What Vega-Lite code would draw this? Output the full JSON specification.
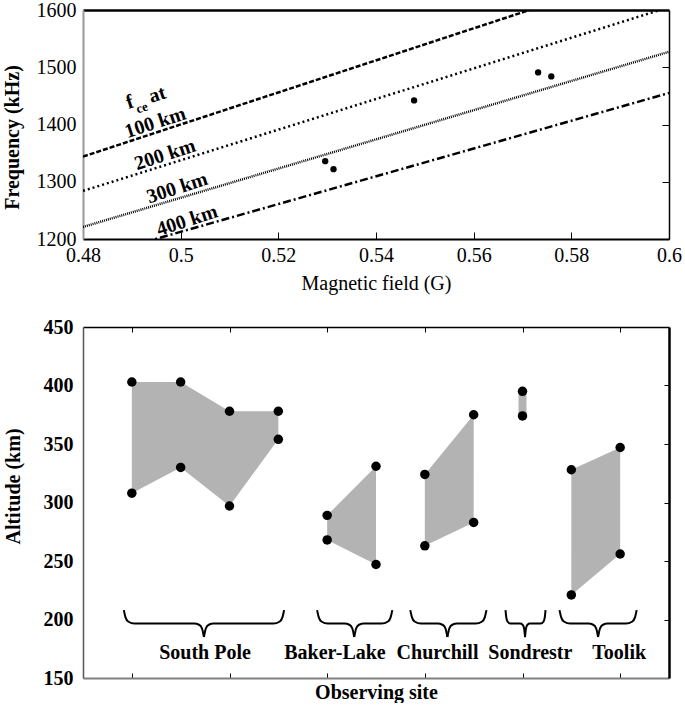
{
  "$schema": "https://vega.github.io/schema/vega-lite/v6.json",
  "padding": {"left": 2, "top": 0, "right": 5, "bottom": 0},
  "spacing": 24,
  "config": {
    "font": "Liberation Serif",
    "view": {"stroke": null},
    "axis": {"labelColor": "black", "titleColor": "black", "grid": false, "labelFontSize": 20, "titleFontSize": 20, "tickColor": "black", "domainColor": "black", "labelFont": "Liberation Serif", "titleFont": "Liberation Serif"}
  },
  "datasets": {
    "lines": [
      {"alt": "100 km", "B": 0.48, "f": 1344},
      {"alt": "100 km", "B": 0.6, "f": 1680},
      {"alt": "200 km", "B": 0.48, "f": 1284},
      {"alt": "200 km", "B": 0.6, "f": 1605},
      {"alt": "300 km", "B": 0.48, "f": 1221},
      {"alt": "300 km", "B": 0.6, "f": 1527},
      {"alt": "400 km", "B": 0.48, "f": 1164},
      {"alt": "400 km", "B": 0.6, "f": 1455}
    ],
    "obs": [
      {"B": 0.5296, "f": 1336},
      {"B": 0.5313, "f": 1322},
      {"B": 0.5478, "f": 1442},
      {"B": 0.5732, "f": 1491},
      {"B": 0.5759, "f": 1484}
    ],
    "toplabels": [
      {"label": "f", "B": 0.4896, "f": 1439},
      {"label": "at", "B": 0.4952, "f": 1452},
      {"label": "100 km", "B": 0.4948, "f": 1403},
      {"label": "200 km", "B": 0.4968, "f": 1347},
      {"label": "300 km", "B": 0.4993, "f": 1289},
      {"label": "400 km", "B": 0.5013, "f": 1232}
    ],
    "subs": [
      {"label": "ce", "B": 0.4921, "f": 1429}
    ],
    "alt": [
      {"site": "South Pole", "x": 0, "top": 403, "bottom": 308},
      {"site": "South Pole", "x": 0.5, "top": 403, "bottom": 330},
      {"site": "South Pole", "x": 1, "top": 378, "bottom": 297},
      {"site": "South Pole", "x": 1.5, "top": 378, "bottom": 354},
      {"site": "Baker-Lake", "x": 2, "top": 289, "bottom": 268},
      {"site": "Baker-Lake", "x": 2.5, "top": 331, "bottom": 247},
      {"site": "Churchill", "x": 3, "top": 324, "bottom": 263},
      {"site": "Churchill", "x": 3.5, "top": 375, "bottom": 283},
      {"site": "Sondrestr", "x": 4, "top": 395, "bottom": 374},
      {"site": "Toolik", "x": 4.5, "top": 328, "bottom": 221},
      {"site": "Toolik", "x": 5, "top": 347, "bottom": 256}
    ],
    "sitelabels": [
      {"label": "South Pole", "x": 0.749},
      {"label": "Baker-Lake", "x": 2.08},
      {"label": "Churchill", "x": 3.13},
      {"label": "Sondrestr", "x": 4.08},
      {"label": "Toolik", "x": 4.99}
    ],
    "braces": [
      {"seg": "SP-L", "x": -0.082, "y": 208}, {"seg": "SP-L", "x": -0.0655, "y": 202}, {"seg": "SP-L", "x": -0.038, "y": 198.3}, {"seg": "SP-L", "x": 0.028, "y": 196.5}, {"seg": "SP-L", "x": 0.638, "y": 196.5}, {"seg": "SP-L", "x": 0.688, "y": 195.5}, {"seg": "SP-L", "x": 0.718, "y": 192.5}, {"seg": "SP-L", "x": 0.738, "y": 185},
      {"seg": "SP-R", "x": 0.738, "y": 185}, {"seg": "SP-R", "x": 0.758, "y": 192.5}, {"seg": "SP-R", "x": 0.788, "y": 195.5}, {"seg": "SP-R", "x": 0.838, "y": 196.5}, {"seg": "SP-R", "x": 1.449, "y": 196.5}, {"seg": "SP-R", "x": 1.515, "y": 198.3}, {"seg": "SP-R", "x": 1.5425, "y": 202}, {"seg": "SP-R", "x": 1.559, "y": 208},
      {"seg": "BL-L", "x": 1.897, "y": 208}, {"seg": "BL-L", "x": 1.9135, "y": 202}, {"seg": "BL-L", "x": 1.941, "y": 198.3}, {"seg": "BL-L", "x": 2.007, "y": 196.5}, {"seg": "BL-L", "x": 2.177, "y": 196.5}, {"seg": "BL-L", "x": 2.227, "y": 195.5}, {"seg": "BL-L", "x": 2.257, "y": 192.5}, {"seg": "BL-L", "x": 2.277, "y": 185},
      {"seg": "BL-R", "x": 2.277, "y": 185}, {"seg": "BL-R", "x": 2.297, "y": 192.5}, {"seg": "BL-R", "x": 2.327, "y": 195.5}, {"seg": "BL-R", "x": 2.377, "y": 196.5}, {"seg": "BL-R", "x": 2.557, "y": 196.5}, {"seg": "BL-R", "x": 2.623, "y": 198.3}, {"seg": "BL-R", "x": 2.6505, "y": 202}, {"seg": "BL-R", "x": 2.667, "y": 208},
      {"seg": "CH-L", "x": 2.851, "y": 208}, {"seg": "CH-L", "x": 2.8675, "y": 202}, {"seg": "CH-L", "x": 2.895, "y": 198.3}, {"seg": "CH-L", "x": 2.961, "y": 196.5}, {"seg": "CH-L", "x": 3.131, "y": 196.5}, {"seg": "CH-L", "x": 3.181, "y": 195.5}, {"seg": "CH-L", "x": 3.211, "y": 192.5}, {"seg": "CH-L", "x": 3.231, "y": 185},
      {"seg": "CH-R", "x": 3.231, "y": 185}, {"seg": "CH-R", "x": 3.251, "y": 192.5}, {"seg": "CH-R", "x": 3.281, "y": 195.5}, {"seg": "CH-R", "x": 3.331, "y": 196.5}, {"seg": "CH-R", "x": 3.521, "y": 196.5}, {"seg": "CH-R", "x": 3.587, "y": 198.3}, {"seg": "CH-R", "x": 3.6145, "y": 202}, {"seg": "CH-R", "x": 3.631, "y": 208},
      {"seg": "SO-L", "x": 3.826, "y": 208}, {"seg": "SO-L", "x": 3.8335, "y": 202}, {"seg": "SO-L", "x": 3.846, "y": 198.3}, {"seg": "SO-L", "x": 3.876, "y": 196.5}, {"seg": "SO-L", "x": 3.976, "y": 196.5}, {"seg": "SO-L", "x": 4.001, "y": 195.5}, {"seg": "SO-L", "x": 4.016, "y": 192.5}, {"seg": "SO-L", "x": 4.026, "y": 185},
      {"seg": "SO-R", "x": 4.026, "y": 185}, {"seg": "SO-R", "x": 4.036, "y": 192.5}, {"seg": "SO-R", "x": 4.051, "y": 195.5}, {"seg": "SO-R", "x": 4.076, "y": 196.5}, {"seg": "SO-R", "x": 4.186, "y": 196.5}, {"seg": "SO-R", "x": 4.216, "y": 198.3}, {"seg": "SO-R", "x": 4.2285, "y": 202}, {"seg": "SO-R", "x": 4.236, "y": 208},
      {"seg": "TO-L", "x": 4.379, "y": 208}, {"seg": "TO-L", "x": 4.3955, "y": 202}, {"seg": "TO-L", "x": 4.423, "y": 198.3}, {"seg": "TO-L", "x": 4.489, "y": 196.5}, {"seg": "TO-L", "x": 4.674, "y": 196.5}, {"seg": "TO-L", "x": 4.724, "y": 195.5}, {"seg": "TO-L", "x": 4.754, "y": 192.5}, {"seg": "TO-L", "x": 4.774, "y": 185},
      {"seg": "TO-R", "x": 4.774, "y": 185}, {"seg": "TO-R", "x": 4.794, "y": 192.5}, {"seg": "TO-R", "x": 4.824, "y": 195.5}, {"seg": "TO-R", "x": 4.874, "y": 196.5}, {"seg": "TO-R", "x": 5.059, "y": 196.5}, {"seg": "TO-R", "x": 5.125, "y": 198.3}, {"seg": "TO-R", "x": 5.1525, "y": 202}, {"seg": "TO-R", "x": 5.169, "y": 208}
    ]
  },
  "vconcat": [
    {
      "width": 586,
      "height": 229,
      "layer": [
        {
          "data": {"name": "lines"},
          "mark": {"type": "line", "clip": true, "color": "black"},
          "encoding": {
            "x": {"field": "B", "type": "quantitative", "scale": {"domain": [0.48, 0.6], "nice": false, "zero": false},
              "axis": {"orient": "bottom", "values": [0.48, 0.5, 0.52, 0.54, 0.56, 0.58, 0.6], "format": "~g", "tickSize": -7, "ticks": true, "domainWidth": 2, "labelPadding": 13, "labelFlush": false, "labelOverlap": false, "title": "Magnetic field (G)", "titleFontWeight": "normal", "titlePadding": 8}},
            "y": {"field": "f", "type": "quantitative", "scale": {"domain": [1200, 1600], "nice": false, "zero": false},
              "axis": {"orient": "left", "values": [1200, 1300, 1400, 1500, 1600], "format": "d", "ticks": false, "domainColor": "#999999", "domainWidth": 2, "labelPadding": 7, "labelFlush": false, "title": "Frequency (kHz)", "titleFontWeight": "bold", "titlePadding": 14, "titleY": 127}},
            "detail": {"field": "alt", "type": "nominal"},
            "strokeDash": {"field": "alt", "type": "nominal", "scale": {"domain": ["100 km", "200 km", "300 km", "400 km"], "range": [[5, 2], [2, 3], [1, 1], [8, 3, 2, 3]]}, "legend": null},
            "strokeWidth": {"field": "alt", "type": "nominal", "scale": {"domain": ["100 km", "200 km", "300 km", "400 km"], "range": [2.5, 2.5, 1.5, 2.5]}, "legend": null}
          }
        },
        {
          "data": {"name": "obs"},
          "mark": {"type": "circle", "color": "black", "opacity": 1, "size": 40},
          "encoding": {
            "x": {"field": "B", "type": "quantitative", "axis": {"orient": "top", "labels": false, "ticks": false, "title": null, "domainWidth": 2.5}},
            "y": {"field": "f", "type": "quantitative", "axis": {"orient": "right", "labels": false, "tickSize": -7, "values": [1300, 1400, 1500], "title": null, "domainWidth": 1.5}}
          }
        },
        {
          "data": {"name": "toplabels"},
          "mark": {"type": "text", "angle": -18, "fontWeight": "bold", "fontSize": 20, "align": "center", "baseline": "middle", "color": "black"},
          "encoding": {
            "x": {"field": "B", "type": "quantitative", "axis": null},
            "y": {"field": "f", "type": "quantitative", "axis": null},
            "text": {"field": "label"}
          }
        },
        {
          "data": {"name": "subs"},
          "mark": {"type": "text", "angle": -18, "fontWeight": "bold", "fontSize": 13, "align": "center", "baseline": "middle", "color": "black"},
          "encoding": {
            "x": {"field": "B", "type": "quantitative", "axis": null},
            "y": {"field": "f", "type": "quantitative", "axis": null},
            "text": {"field": "label"}
          }
        }
      ],
      "resolve": {"axis": {"x": "independent", "y": "independent"}}
    },
    {
      "width": 586,
      "height": 351,
      "layer": [
        {
          "data": {"name": "alt"},
          "mark": {"type": "area", "color": "#b3b3b3", "opacity": 1},
          "encoding": {
            "x": {"field": "x", "type": "quantitative", "scale": {"domain": [-0.5, 5.5], "nice": false, "zero": false},
              "axis": {"orient": "bottom", "values": [0, 1, 2, 3, 4, 5], "labels": false, "tickSize": -5, "domainColor": "#808080", "domainWidth": 2, "title": "Observing site", "titleFontWeight": "bold", "titlePadding": 4}},
            "y": {"field": "top", "type": "quantitative", "scale": {"domain": [150, 450], "nice": false, "zero": false},
              "axis": {"orient": "left", "values": [150, 200, 250, 300, 350, 400, 450], "format": "d", "ticks": false, "labelFontWeight": "bold", "labelPadding": 10, "labelFlush": false, "domainColor": "#555555", "domainWidth": 1.5, "title": "Altitude (km)", "titleFontWeight": "bold", "titlePadding": 20, "titleY": 159}},
            "y2": {"field": "bottom"},
            "detail": {"field": "site", "type": "nominal"}
          }
        },
        {
          "data": {"name": "alt"},
          "transform": [{"filter": "datum.site === 'Sondrestr'"}],
          "mark": {"type": "rule", "color": "#b3b3b3", "strokeWidth": 8},
          "encoding": {
            "x": {"field": "x", "type": "quantitative", "axis": {"orient": "top", "labels": false, "values": [0, 1, 2, 3, 4, 5], "tickSize": -5, "domainWidth": 1.5, "title": null}},
            "y": {"field": "top", "type": "quantitative", "axis": {"orient": "right", "labels": false, "values": [200, 250, 300, 350, 400], "tickSize": -5, "domainWidth": 2.5, "title": null}},
            "y2": {"field": "bottom"}
          }
        },
        {
          "data": {"name": "alt"},
          "mark": {"type": "circle", "color": "black", "opacity": 1, "size": 90},
          "encoding": {
            "x": {"field": "x", "type": "quantitative", "axis": null},
            "y": {"field": "top", "type": "quantitative", "axis": null}
          }
        },
        {
          "data": {"name": "alt"},
          "mark": {"type": "circle", "color": "black", "opacity": 1, "size": 90},
          "encoding": {
            "x": {"field": "x", "type": "quantitative", "axis": null},
            "y": {"field": "bottom", "type": "quantitative", "axis": null}
          }
        },
        {
          "data": {"name": "braces"},
          "mark": {"type": "line", "color": "black", "strokeWidth": 2, "interpolate": "monotone"},
          "encoding": {
            "x": {"field": "x", "type": "quantitative", "axis": null},
            "y": {"field": "y", "type": "quantitative", "axis": null},
            "detail": {"field": "seg", "type": "nominal"}
          }
        },
        {
          "data": {"name": "sitelabels"},
          "mark": {"type": "text", "fontWeight": "bold", "fontSize": 20, "align": "center", "baseline": "middle", "color": "black"},
          "encoding": {
            "x": {"field": "x", "type": "quantitative", "axis": null},
            "y": {"datum": 171, "type": "quantitative", "axis": null},
            "text": {"field": "label"}
          }
        }
      ],
      "resolve": {"axis": {"x": "independent", "y": "independent"}}
    }
  ]
}
